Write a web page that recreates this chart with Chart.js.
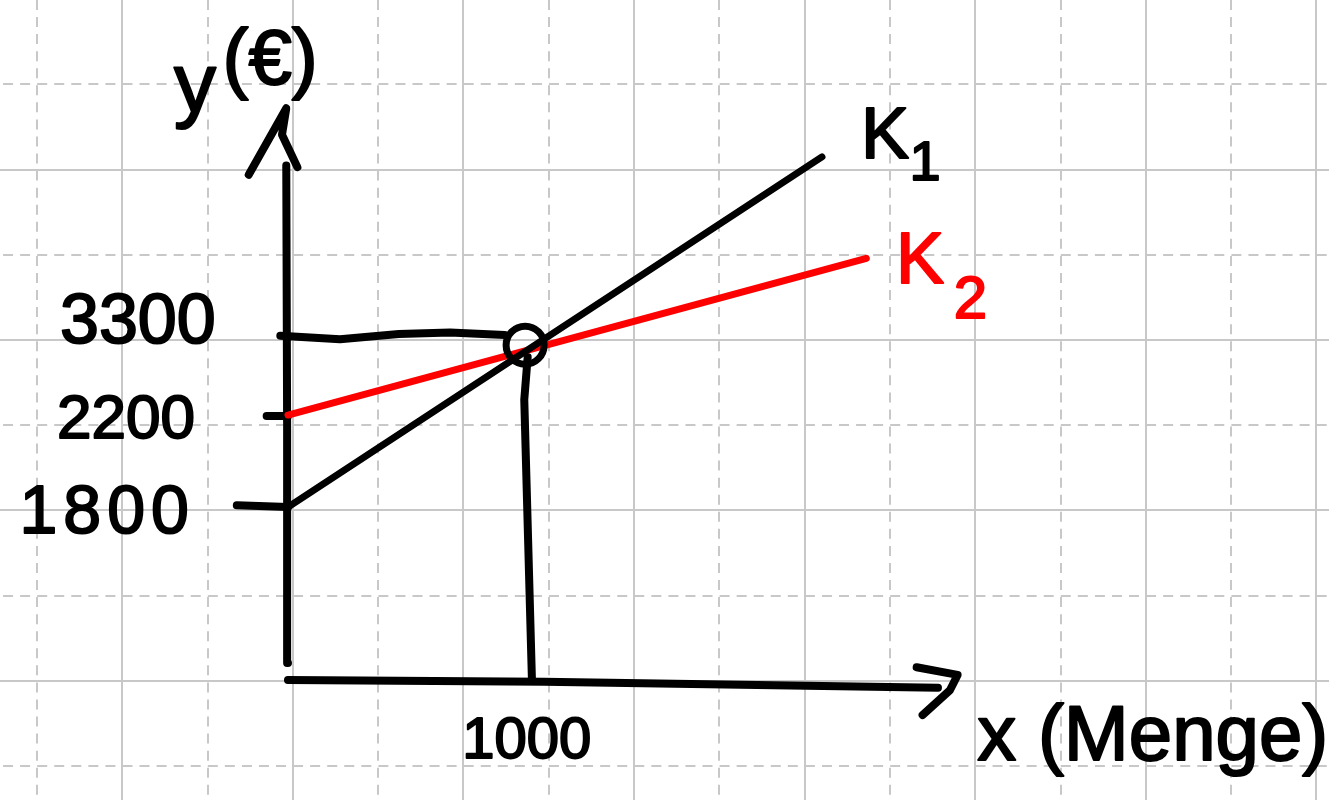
<!DOCTYPE html>
<html lang="de">
<head>
<meta charset="utf-8">
<title>Kostenvergleich K1 / K2</title>
<script src="https://cdn.jsdelivr.net/npm/chart.js@4.4.1/dist/chart.umd.min.js"></script>
<style>
  html, body { margin: 0; padding: 0; background: #ffffff; }
  canvas { display: block; }
</style>
</head>
<body>
<canvas id="skizze" width="1329" height="800"></canvas>
<script>
// Werte in Kaestchen (Rasterabstand), gemessen vom Achsenkreuz aus
const mengeTicks = ['1000'];
const kostenTicks = ['3300', '2200', '1800'];
const kurvenNamen = ['K', 'K'];
const kurvenIndex = ['1', '2'];

const k1Werte = [{ x: 0, y: 2.03 }, { x: 6.26, y: 6.14 }];
const k2Werte = [{ x: 0, y: 3.11 }, { x: 6.78, y: 4.95 }];
const schnittpunkt = [{ x: 2.78, y: 3.93 }];

const yAchse = [{ x: 0, y: 0.20 }, { x: -0.01, y: 3.0 }, { x: -0.02, y: 6.04 }];
const yPfeil = [{ x: -0.46, y: 5.93 }, { x: -0.02, y: 6.71 }, { x: -0.07, y: 6.40 }, { x: 0.11, y: 6.02 }];
const xAchse = [{ x: 0, y: 0 }, { x: 3.0, y: -0.02 }, { x: 7.62, y: -0.09 }];
const xPfeil = [{ x: 7.37, y: 0.15 }, { x: 7.85, y: 0.06 }, { x: 7.76, y: -0.12 }, { x: 7.44, y: -0.41 }];

const hilfslinie3300 = [{ x: -0.09, y: 4.04 }, { x: 0.61, y: 4.00 }, { x: 1.30, y: 4.06 }, { x: 1.90, y: 4.08 }, { x: 2.54, y: 4.05 }];
const lot1000 = [{ x: 2.81, y: 3.79 }, { x: 2.77, y: 3.29 }, { x: 2.86, y: 0 }];
const strich2200 = [{ x: -0.25, y: 3.10 }, { x: 0, y: 3.10 }];
const strich1800 = [{ x: -0.60, y: 2.05 }, { x: 0, y: 2.03 }];

document.addEventListener('DOMContentLoaded', () => {
    const rot = '#ff0000';
    const schwarz = '#000000';

    const texte = [
        { text: 'y', x: -1.09, y: 6.67, groesse: 84, farbe: schwarz },
        { text: '(€)', x: -0.21, y: 7.00, groesse: 78, farbe: schwarz },
        { text: kostenTicks[0], x: -1.76, y: 3.96, groesse: 70, farbe: schwarz },
        { text: kostenTicks[1], x: -1.90, y: 2.84, groesse: 62, farbe: schwarz },
        { text: kostenTicks[2], x: -2.12, y: 1.73, groesse: 68, farbe: schwarz, abstand: '6px' },
        { text: mengeTicks[0], x: 2.80, y: -0.92, groesse: 58, farbe: schwarz },
        { text: kurvenNamen[0], x: 7.00, y: 6.13, groesse: 72, farbe: schwarz },
        { text: kurvenIndex[0], x: 7.47, y: 5.87, groesse: 56, farbe: schwarz },
        { text: kurvenNamen[1], x: 7.41, y: 4.66, groesse: 72, farbe: rot },
        { text: kurvenIndex[1], x: 8.00, y: 4.25, groesse: 60, farbe: rot },
        { text: 'x (Menge)', x: 8.08, y: -0.94, groesse: 78, farbe: schwarz, align: 'left' }
    ];

    const beschriftung = {
        id: 'beschriftung',
        afterDatasetsDraw(chart) {
            const { ctx, scales: { x, y } } = chart;
            ctx.save();
            ctx.lineWidth = 2;
            ctx.lineJoin = 'round';
            texte.forEach(t => {
                const px = x.getPixelForValue(t.x);
                const py = y.getPixelForValue(t.y);
                ctx.font = `${t.groesse}px "Liberation Sans", Arial, sans-serif`;
                ctx.fillStyle = t.farbe;
                ctx.strokeStyle = t.farbe;
                ctx.textAlign = t.align || 'center';
                ctx.textBaseline = 'alphabetic';
                ctx.letterSpacing = t.abstand || '0px';
                ctx.fillText(t.text, px, py);
                ctx.strokeText(t.text, px, py);
            });
            ctx.restore();
        }
    };

    // Karopapier: jede zweite Linie durchgezogen, dazwischen gestrichelt
    function rasterTicks(start, max) {
        const ticks = [];
        for (let v = start; v <= max + 0.001; v += 1) {
            ticks.push({ value: v });
        }
        return ticks;
    }

    function rasterAchse(min, max, start, dashOffset) {
        return {
            type: 'linear',
            min: min,
            max: max,
            bounds: 'data',
            ticks: { display: false },
            grid: {
                color: '#c8c8c8',
                lineWidth: 2,
                drawTicks: false
            },
            border: {
                display: false,
                dash: ctx => (ctx.index % 2 === 0 ? [10, 7.06] : []),
                dashOffset: dashOffset
            },
            afterBuildTicks: scale => {
                scale.ticks = rasterTicks(start, max);
            }
        };
    }

    function strich(data, farbe, breite) {
        return {
            data: data,
            showLine: true,
            borderColor: farbe,
            borderWidth: breite,
            borderCapStyle: 'round',
            borderJoinStyle: 'round',
            pointRadius: 0,
            tension: 0
        };
    }

    const ctx = document.getElementById('skizze').getContext('2d');
    new Chart(ctx, {
        type: 'scatter',
        data: {
            datasets: [
                {
                    data: schnittpunkt,
                    showLine: false,
                    pointRadius: 19,
                    pointBorderWidth: 7,
                    pointBorderColor: schwarz,
                    pointBackgroundColor: 'rgba(0,0,0,0)'
                },
                strich(k1Werte, schwarz, 7),
                strich(k2Werte, rot, 7),
                strich(yAchse, schwarz, 8),
                strich(yPfeil, schwarz, 8),
                strich(xAchse, schwarz, 8),
                strich(xPfeil, schwarz, 8),
                strich(hilfslinie3300, schwarz, 8),
                strich(lot1000, schwarz, 8),
                strich(strich2200, schwarz, 8),
                strich(strich1800, schwarz, 8)
            ]
        },
        options: {
            responsive: false,
            animation: false,
            layout: { padding: 0, autoPadding: false },
            plugins: {
                legend: { display: false },
                tooltip: { enabled: false }
            },
            scales: {
                x: rasterAchse(-3.376, 12.204, -2.943, 0),
                y: rasterAchse(-1.408, 7.981, -1.009, 14)
            }
        },
        plugins: [beschriftung]
    });
});
</script>
</body>
</html>
